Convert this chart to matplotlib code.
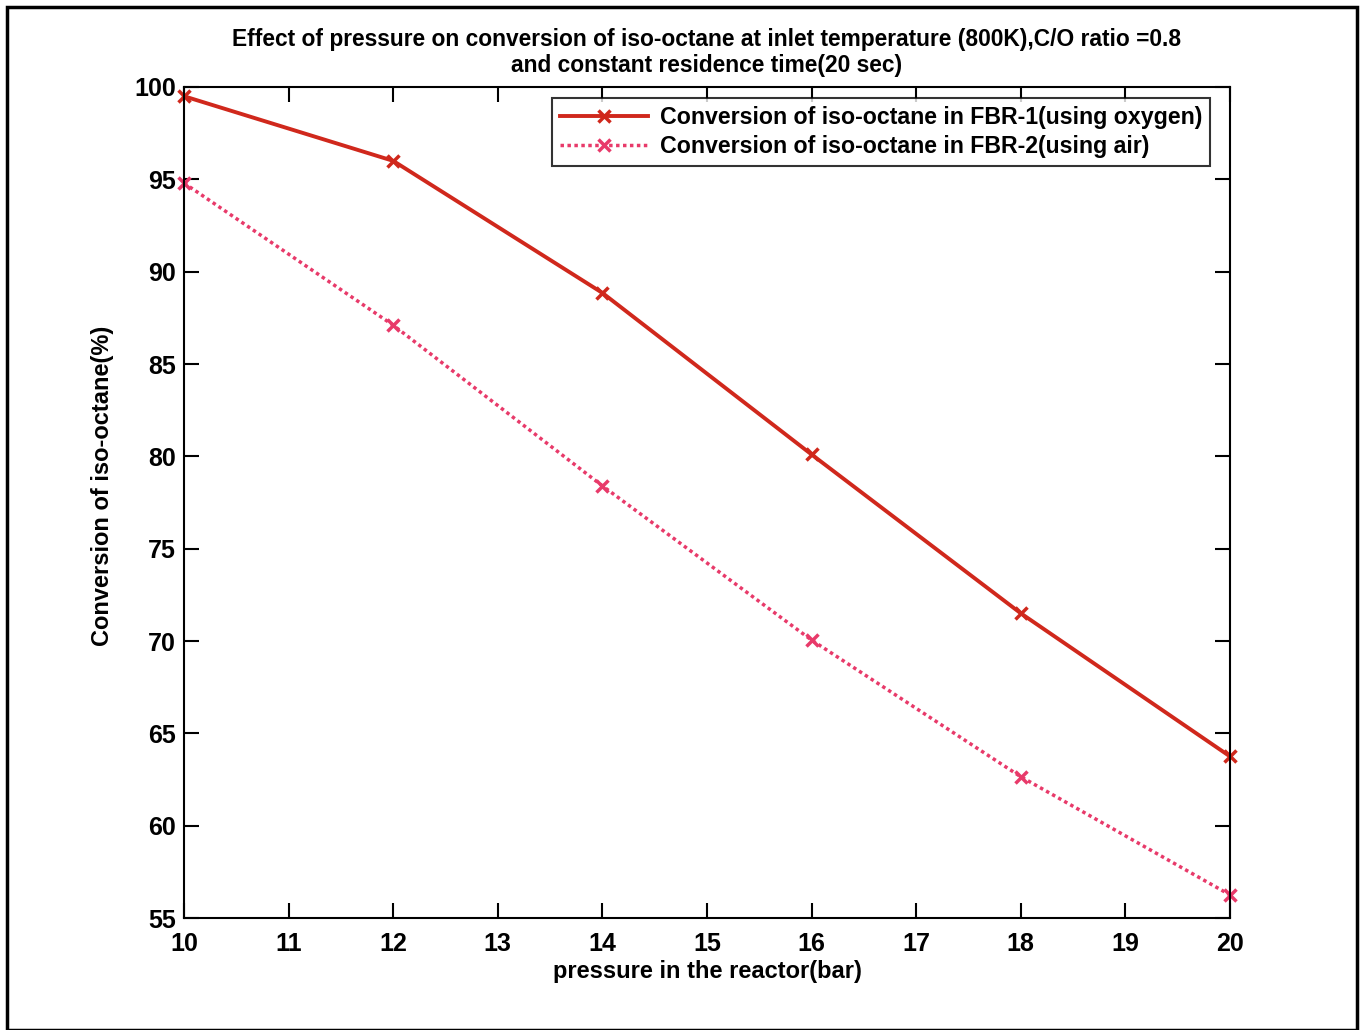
import matplotlib.pyplot as plt
import matplotlib.patches as patches

plt.rcParams['font.family'] = ['Liberation Sans', 'DejaVu Sans']
plt.rcParams['font.weight'] = 'bold'

pressure = [10, 12, 14, 16, 18, 20]
conv_fbr1 = [99.5, 96.0, 88.85, 80.1, 71.5, 63.75]
conv_fbr2 = [94.8, 87.1, 78.4, 70.05, 62.65, 56.25]

x_ticks = list(range(10, 21))
y_ticks = list(range(55, 101, 5))

fig = plt.figure(figsize=(13.61, 10.30), dpi=100)
ax = fig.add_axes([184 / 1361, 1 - 918 / 1030, (1230 - 184) / 1361, (918 - 87) / 1030])

ax.plot(pressure, conv_fbr1, color='#d0281c', lw=2.8, marker='x', ms=9, mew=2.5,
        label='Conversion of iso-octane in FBR-1(using oxygen)', clip_on=False)
ax.plot(pressure, conv_fbr2, color='#e83a6a', lw=2.5, ls=(0, (1, 1)), marker='x', ms=9, mew=2.5,
        label='Conversion of iso-octane in FBR-2(using air)', clip_on=False)

ax.set_xlim(10, 20)
ax.set_ylim(55, 100)
ax.set_xticks(x_ticks)
ax.set_yticks(y_ticks)
ax.tick_params(direction='in', top=True, right=True, length=11, width=1.5,
               labelsize=18, pad=6)
ax.tick_params(axis='x', pad=10)
for s in ax.spines.values():
    s.set_linewidth(1.5)

ax.set_xlabel('pressure in the reactor(bar)', fontsize=17, fontweight='bold')
ax.xaxis.set_label_coords(0.5, -0.05)
ax.set_ylabel('Conversion of iso-octane(%)', fontsize=17, fontweight='bold')
ax.yaxis.set_label_coords(-0.067, 0.52)
ax.set_title('Effect of pressure on conversion of iso-octane at inlet temperature (800K),C/O ratio =0.8\n'
             'and constant residence time(20 sec)', fontsize=16.4, fontweight='bold', pad=11,
             linespacing=1.15)

leg = ax.legend(loc='upper right', bbox_to_anchor=(0.981, 0.987), borderaxespad=0,
                fontsize=16.7, frameon=True, fancybox=False, edgecolor='black',
                handlelength=3.8, borderpad=0.35, labelspacing=0.25, handletextpad=0.5)
leg.get_frame().set_linewidth(1.5)

fig.patches.append(patches.Rectangle((7 / 1361, 0.0), 1350 / 1361, 1 - 7 / 1030,
                                     transform=fig.transFigure, fill=False,
                                     edgecolor='black', lw=2.5))

fig.savefig('out.png', dpi=100)
